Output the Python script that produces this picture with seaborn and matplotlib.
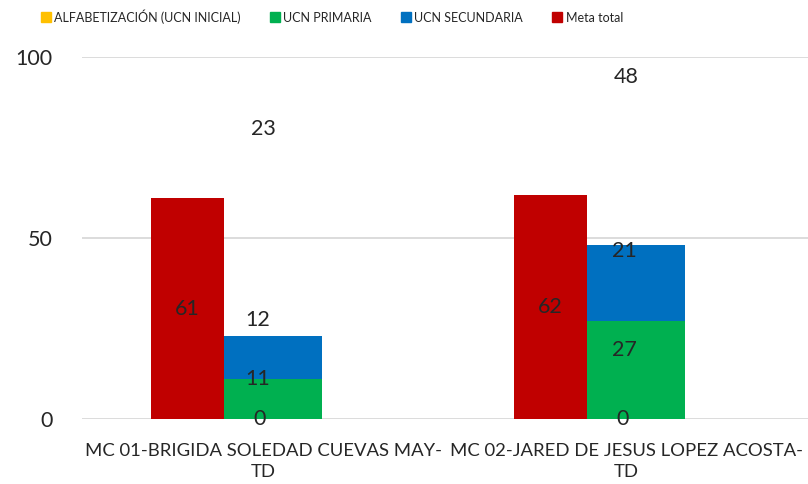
import numpy as np
import pandas as pd
import matplotlib
matplotlib.use("Agg")
import matplotlib.pyplot as plt
import seaborn as sns
from matplotlib.lines import Line2D

categories = ["MC 01-BRIGIDA SOLEDAD CUEVAS MAY-\nTD", "MC 02-JARED DE JESUS LOPEZ ACOSTA-\nTD"]
alfabetizacion = [0, 0]
primaria = [11, 27]
secundaria = [12, 21]
meta_total = [61, 62]
totals = [23, 48]
series_names = ["ALFABETIZACIÓN (UCN INICIAL)", "UCN PRIMARIA", "UCN SECUNDARIA", "Meta total"]
colors = ["#FFC000", "#00B050", "#0070C0", "#C00000"]

sns.set_theme(style="white")
plt.rcParams["font.family"] = ["Lato", "DejaVu Sans"]

fig = plt.figure(figsize=(8.08, 4.84), dpi=100)
ax = fig.add_axes([82/808, 1 - 419/484, 1 - 82/808, (419 - 57)/484])

idx = np.arange(len(categories))
red_w = 0.2
stk_w = 0.27
red_x = idx - 0.11 - red_w / 2
stk_x = idx - 0.11 + stk_w / 2

# Meta total bars
sns.barplot(x=red_x, y=meta_total, native_scale=True, width=red_w,
            color=colors[3], saturation=1, ax=ax, zorder=3, linewidth=0)

# Stacked bars: draw cumulative heights from top down
cum_sec = np.array(alfabetizacion) + np.array(primaria) + np.array(secundaria)
cum_pri = np.array(alfabetizacion) + np.array(primaria)
cum_alf = np.array(alfabetizacion)
for vals, col in [(cum_sec, colors[2]), (cum_pri, colors[1]), (cum_alf, colors[0])]:
    if np.any(vals > 0):
        ax.bar(stk_x, vals, width=stk_w, color=col, zorder=3, linewidth=0)

ax.set_xlim(-0.5, 1.5)
ax.set_ylim(0, 100)
ax.set_yticks([0, 50, 100])
ax.set_xticks(idx)
ax.set_xticklabels(categories, fontsize=13.3, linespacing=1.45)
ax.tick_params(axis="y", labelsize=15.5, pad=21, length=0)
ax.tick_params(axis="x", pad=17, length=0)
ax.yaxis.grid(True, color="#d9d9d9", linewidth=1.3, zorder=0)
ax.set_axisbelow(True)
sns.despine(ax=ax, left=True, bottom=True, top=True, right=True)
ax.set_xlabel("")
ax.set_ylabel("")

fs = 15.5
# data labels
for i in idx:
    ax.text(red_x[i], meta_total[i] / 2, str(meta_total[i]), ha="center", va="center", fontsize=fs, zorder=5)
    ax.text(i - 0.01, 0, str(alfabetizacion[i]), ha="center", va="center", fontsize=fs, zorder=5)
    ax.text(i + 0.0, totals[i] * 1.0 + (57 if i == 0 else 46.5), str(totals[i]), ha="center", va="center", fontsize=fs, zorder=5)
# primaria / secundaria label positions as seen
ax.text(-0.015, primaria[0], str(primaria[0]), ha="center", va="center", fontsize=fs, zorder=5)
ax.text(-0.015, cum_sec[0] + 4.3, str(secundaria[0]), ha="center", va="center", fontsize=fs, zorder=5)
ax.text(0.995, 19, str(primaria[1]), ha="center", va="center", fontsize=fs, zorder=5)
ax.text(0.995, cum_sec[1] - 1.5, str(secundaria[1]), ha="center", va="center", fontsize=fs, zorder=5)

handles = [Line2D([0], [0], marker="s", linestyle="", markersize=6.5, markerfacecolor=c, markeredgecolor=c)
           for c in colors]
fig.legend(handles, series_names, loc="upper left", bbox_to_anchor=(28/808, 1.004), ncol=4,
           frameon=False, prop={"family": ["Lato"], "size": 9},
           handletextpad=0.2, columnspacing=2.2, handlelength=1.0)

fig.savefig("out.png", dpi=100)
